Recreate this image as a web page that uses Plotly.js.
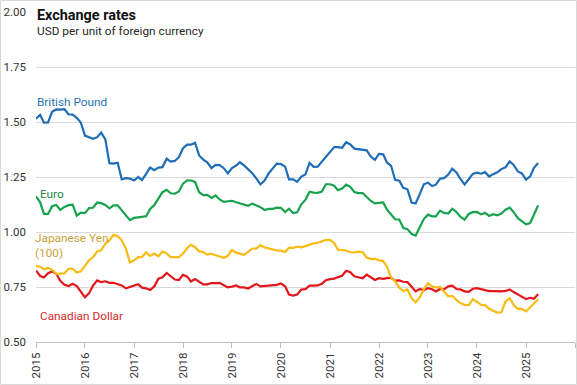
<!DOCTYPE html>
<html>
<head>
<meta charset="utf-8">
<script src="https://cdn.plot.ly/plotly-3.0.1.min.js"></script>
<style>
  html, body { margin: 0; padding: 0; background: #ffffff; }
  #chart { width: 577px; height: 385px; }
</style>
</head>
<body>
<div id="chart"></div>
<script>
// Monthly averages, Jan 2015 – Apr 2025 (USD per unit of foreign currency)
const startYear = 2015;
const yearTicks = [2015, 2016, 2017, 2018, 2019, 2020, 2021, 2022, 2023, 2024, 2025, 2026];
const yTicks = [0.50, 0.75, 1.00, 1.25, 1.50, 1.75, 2.00];
const seriesNames = ["British Pound", "Euro", "Japanese Yen<br>(100)", "Canadian Dollar"];

const britishPound = [
  1.515,1.533,1.497,1.498,1.546,1.557,1.556,1.558,1.534,1.534,1.519,1.498,
  1.438,1.431,1.424,1.431,1.452,1.421,1.313,1.311,1.315,1.239,1.245,1.243,
  1.234,1.250,1.236,1.264,1.293,1.281,1.293,1.295,1.333,1.320,1.323,1.340,
  1.381,1.397,1.397,1.406,1.348,1.329,1.317,1.290,1.305,1.304,1.290,1.266,
  1.291,1.302,1.317,1.303,1.286,1.267,1.244,1.217,1.234,1.266,1.289,1.311,
  1.309,1.297,1.239,1.239,1.228,1.252,1.261,1.314,1.296,1.297,1.320,1.342,
  1.365,1.386,1.386,1.383,1.408,1.398,1.379,1.377,1.373,1.371,1.343,1.328,
  1.355,1.353,1.316,1.301,1.237,1.233,1.201,1.194,1.134,1.130,1.172,1.217,
  1.224,1.209,1.215,1.243,1.245,1.261,1.288,1.271,1.240,1.216,1.240,1.264,
  1.270,1.265,1.272,1.252,1.263,1.271,1.286,1.294,1.321,1.305,1.275,1.266,
  1.238,1.253,1.292,1.314
];
const euro = [
  1.162,1.135,1.082,1.082,1.117,1.123,1.100,1.114,1.122,1.124,1.074,1.088,
  1.086,1.109,1.110,1.134,1.131,1.123,1.107,1.121,1.121,1.099,1.079,1.054,
  1.064,1.065,1.069,1.072,1.105,1.123,1.151,1.181,1.192,1.176,1.174,1.184,
  1.220,1.235,1.234,1.228,1.181,1.168,1.169,1.155,1.166,1.148,1.137,1.138,
  1.142,1.135,1.130,1.124,1.119,1.129,1.122,1.113,1.100,1.105,1.105,1.111,
  1.110,1.091,1.106,1.086,1.090,1.126,1.146,1.183,1.179,1.178,1.184,1.217,
  1.217,1.210,1.190,1.198,1.215,1.205,1.182,1.177,1.177,1.160,1.141,1.130,
  1.131,1.134,1.102,1.082,1.058,1.057,1.018,1.013,0.991,0.984,1.021,1.059,
  1.079,1.071,1.071,1.097,1.087,1.084,1.106,1.091,1.068,1.056,1.082,1.090,
  1.091,1.080,1.087,1.073,1.081,1.076,1.084,1.101,1.111,1.090,1.063,1.048,
  1.035,1.041,1.081,1.121
];
const japaneseYen100 = [
  0.846,0.842,0.831,0.837,0.828,0.809,0.811,0.812,0.833,0.833,0.816,0.821,
  0.846,0.872,0.885,0.912,0.917,0.948,0.962,0.987,0.981,0.963,0.924,0.862,
  0.871,0.886,0.886,0.908,0.891,0.902,0.890,0.911,0.903,0.886,0.886,0.886,
  0.902,0.927,0.942,0.931,0.912,0.909,0.897,0.901,0.894,0.887,0.883,0.892,
  0.918,0.906,0.900,0.896,0.910,0.925,0.924,0.941,0.930,0.925,0.918,0.916,
  0.915,0.909,0.929,0.928,0.933,0.930,0.936,0.943,0.948,0.951,0.958,0.964,
  0.964,0.949,0.920,0.917,0.916,0.908,0.907,0.911,0.908,0.884,0.877,0.878,
  0.871,0.868,0.843,0.793,0.776,0.747,0.732,0.739,0.699,0.680,0.703,0.739,
  0.767,0.753,0.747,0.750,0.730,0.708,0.710,0.691,0.677,0.669,0.668,0.694,
  0.683,0.669,0.668,0.651,0.642,0.634,0.635,0.684,0.699,0.668,0.651,0.651,
  0.639,0.658,0.671,0.694
];
const canadianDollar = [
  0.825,0.800,0.793,0.813,0.821,0.810,0.778,0.760,0.754,0.765,0.754,0.729,
  0.703,0.722,0.756,0.780,0.772,0.776,0.769,0.769,0.762,0.757,0.744,0.750,
  0.758,0.763,0.747,0.744,0.736,0.753,0.788,0.794,0.814,0.797,0.784,0.781,
  0.805,0.797,0.775,0.786,0.776,0.762,0.762,0.768,0.768,0.769,0.758,0.748,
  0.752,0.757,0.748,0.748,0.743,0.752,0.764,0.753,0.754,0.758,0.756,0.760,
  0.766,0.753,0.716,0.711,0.716,0.738,0.740,0.756,0.756,0.757,0.765,0.781,
  0.786,0.788,0.795,0.801,0.824,0.817,0.799,0.794,0.790,0.806,0.795,0.782,
  0.790,0.787,0.790,0.792,0.779,0.780,0.774,0.772,0.751,0.730,0.741,0.735,
  0.745,0.740,0.730,0.741,0.739,0.753,0.756,0.741,0.739,0.730,0.728,0.742,
  0.745,0.740,0.738,0.731,0.731,0.729,0.730,0.732,0.739,0.727,0.716,0.703,
  0.695,0.701,0.697,0.717
];

// month dates for the category axis
function monthDates(n) {
  const out = [];
  for (let i = 0; i < n; i++) {
    const y = startYear + Math.floor(i / 12);
    const m = (i % 12) + 1;
    out.push(y + "-" + String(m).padStart(2, "0") + "-01");
  }
  return out;
}
const dates = monthDates(britishPound.length);

const W = 577, H = 385;
const M = { l: 36, r: 2, t: 12, b: 43 };
const PW = W - M.l - M.r, PH = H - M.t - M.b;
const px = x => (x - M.l) / PW;
const py = y => (H - M.b - y) / PH;

const FONT = "Roboto, 'Liberation Sans', Arial, sans-serif";
const colors = { gbp: "#1f6db6", eur: "#17a24e", jpy: "#f8bb12", cad: "#e3161b" };
const labelColors = { gbp: "#2a72b5", eur: "#1f8443", jpy: "#c9a23a", cad: "#d62a2e" };

function line(y, c) {
  return { x: dates, y: y, type: "scatter", mode: "lines",
           line: { color: c, width: 2.2 }, hoverinfo: "skip", showlegend: false };
}
const traces = [
  line(canadianDollar, colors.cad),
  line(japaneseYen100, colors.jpy),
  line(euro, colors.eur),
  line(britishPound, colors.gbp)
];

function lab(text, x, y, color, size, extra) {
  return Object.assign({ text: text, x: px(x), y: py(y), xref: "paper", yref: "paper",
    xanchor: "left", yanchor: "middle", showarrow: false, align: "left",
    font: { family: FONT, size: size, color: color } }, extra || {});
}

const layout = {
  width: W, height: H,
  margin: { l: M.l, r: M.r, t: M.t, b: M.b, pad: 0 },
  paper_bgcolor: "#ffffff", plot_bgcolor: "#ffffff",
  font: { family: FONT, size: 11, color: "#404040" },
  xaxis: {
    type: "date",
    range: [yearTicks[0] + "-01-01", yearTicks[yearTicks.length - 1] + "-01-01"],
    tickmode: "array",
    tickvals: yearTicks.map(y => y + "-01-01"),
    ticktext: yearTicks.map((y, i) => i === yearTicks.length - 1 ? "" : String(y)),
    tickangle: -90,
    ticks: "outside", ticklen: 5, tickcolor: "#bfbfbf", tickwidth: 1,
    showline: true, linecolor: "#bfbfbf", linewidth: 1,
    showgrid: false, zeroline: false,
    tickfont: { family: FONT, size: 11.5, color: "#333333" },
    fixedrange: true
  },
  yaxis: {
    range: [yTicks[0], yTicks[yTicks.length - 1]],
    tickmode: "array", tickvals: yTicks,
    ticktext: yTicks.map(v => v.toFixed(2)),
    showgrid: true, gridcolor: "#d9d9d9", gridwidth: 1,
    zeroline: false, showline: false, ticks: "",
    ticklabelstandoff: 9,
    tickfont: { family: FONT, size: 11.5, color: "#333333" },
    fixedrange: true
  },
  annotations: [
    lab("<b>Exchange rates</b>", 35, 16, "#111111", 14.4),
    lab("USD per unit of foreign currency", 35, 31.5, "#262626", 11.8),
    lab(seriesNames[0], 35, 102, labelColors.gbp, 11.8),
    lab(seriesNames[1], 38, 194, labelColors.eur, 11.8),
    lab(seriesNames[2], 33, 245.5, labelColors.jpy, 11.8),
    lab(seriesNames[3], 38, 316, labelColors.cad, 11.8)
  ],
  shapes: [
    { type: "rect", xref: "paper", yref: "paper",
      x0: px(0.5), x1: px(W - 0.5), y0: py(H - 0.5), y1: py(0.5),
      line: { color: "#d9d9d9", width: 1 }, fillcolor: "rgba(0,0,0,0)", layer: "above" }
  ]
};

Plotly.newPlot("chart", traces, layout, { staticPlot: true, displayModeBar: false });
</script>
</body>
</html>
